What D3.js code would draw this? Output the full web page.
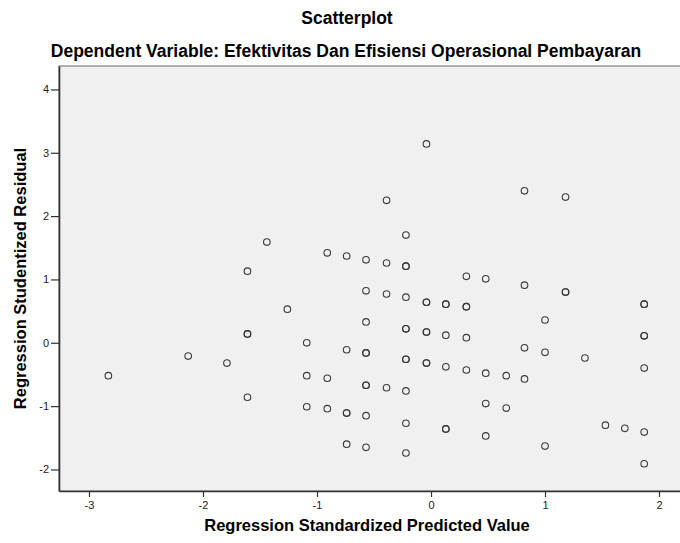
<!DOCTYPE html>
<html>
<head>
<meta charset="utf-8">
<script src="https://cdn.jsdelivr.net/npm/d3@7"></script>
<style>
  body { margin: 0; background: #fff; }
  text { font-family: 'Liberation Sans', Arial, sans-serif; fill: #000; }
  .tick text { font-size: 11px; fill: #222; }
  .axis-label { font-weight: bold; font-size: 16.5px; }
  .title { font-weight: bold; font-size: 17.5px; }
</style>
</head>
<body>
<svg width="680" height="543"></svg>
<script>
// regression standardized predicted value (x) and studentized residual (y)
// repeated pairs are cases that sit on top of each other
const predicted = [
  -2.83, -2.13, -1.79,
  -1.61, -1.61, -1.61, -1.61,
  -1.44, -1.26,
  -1.09, -1.09, -1.09,
  -0.91, -0.91, -0.91,
  -0.74, -0.74, -0.74, -0.74, -0.74,
  -0.57, -0.57, -0.57, -0.57, -0.57, -0.57, -0.57, -0.57, -0.57,
  -0.39, -0.39, -0.39, -0.39,
  -0.22, -0.22, -0.22, -0.22, -0.22, -0.22, -0.22, -0.22, -0.22, -0.22, -0.22,
  -0.04, -0.04, -0.04, -0.04, -0.04, -0.04, -0.04,
  0.13, 0.13, 0.13, 0.13, 0.13, 0.13,
  0.31, 0.31, 0.31, 0.31, 0.31,
  0.48, 0.48, 0.48, 0.48,
  0.66, 0.66,
  0.82, 0.82, 0.82, 0.82,
  1.00, 1.00, 1.00,
  1.18, 1.18, 1.18,
  1.35, 1.53, 1.70,
  1.87, 1.87, 1.87, 1.87, 1.87, 1.87, 1.87
];
const residual = [
  -0.52, -0.21, -0.32,
  1.13, 0.14, 0.14, -0.86,
  1.59, 0.53,
  0.00, -0.52, -1.01,
  1.42, -0.56, -1.04,
  1.37, -0.11, -1.11, -1.11, -1.60,
  1.31, 0.82, 0.33, -0.16, -0.16, -0.67, -0.67, -1.15, -1.65,
  2.25, 1.26, 0.77, -0.71,
  1.70, 1.21, 1.21, 0.72, 0.22, 0.22, -0.26, -0.26, -0.76, -1.27, -1.74,
  3.14, 0.64, 0.64, 0.17, 0.17, -0.32, -0.32,
  0.61, 0.61, 0.12, -0.38, -1.36, -1.36,
  1.05, 0.57, 0.57, 0.08, -0.43,
  1.01, -0.48, -0.96, -1.47,
  -0.52, -1.03,
  2.40, 0.91, -0.08, -0.57,
  0.36, -0.15, -1.63,
  2.30, 0.80, 0.80,
  -0.24, -1.30, -1.35,
  0.61, 0.61, 0.11, 0.11, -0.40, -1.41, -1.91
];
const xTicks = [-3, -2, -1, 0, 1, 2];
const yTicks = [-2, -1, 0, 1, 2, 3, 4];
const xExtent = [-3.263, 2.184];
const yExtent = [-2.34, 4.37];

const title = 'Scatterplot';
const subtitle = 'Dependent Variable: Efektivitas Dan Efisiensi Operasional Pembayaran';
const xLabel = 'Regression Standardized Predicted Value';
const yLabel = 'Regression Studentized Residual';

const margin = { left: 59, right: 0, top: 66, bottom: 52 };

const svg = d3.select('svg');
const width = +svg.attr('width');
const height = +svg.attr('height');
const innerWidth = width - margin.left - margin.right;
const innerHeight = height - margin.top - margin.bottom;

const data = predicted.map((x, i) => ({ x, y: residual[i] }));

const xScale = d3.scaleLinear().domain(xExtent).range([0, innerWidth]);
const yScale = d3.scaleLinear().domain(yExtent).range([innerHeight, 0]);

// SPSS prints a plain hyphen, not the unicode minus
const tickFmt = d => String(d);

svg.append('text')
    .attr('class', 'title')
    .attr('x', 347)
    .attr('y', 24)
    .attr('text-anchor', 'middle')
    .text(title);

svg.append('text')
    .attr('class', 'title')
    .attr('x', 346)
    .attr('y', 57)
    .attr('text-anchor', 'middle')
    .text(subtitle);

const g = svg.append('g')
    .attr('transform', `translate(${margin.left},${margin.top})`);

// plot background, right edge runs off the picture
g.append('rect')
    .attr('width', innerWidth + 5)
    .attr('height', innerHeight)
    .attr('fill', '#f0f0f0')
    .attr('stroke', '#666')
    .attr('stroke-width', 1);

const xAxisG = g.append('g')
    .attr('transform', `translate(0,${innerHeight})`)
    .call(d3.axisBottom(xScale).tickValues(xTicks).tickFormat(tickFmt)
        .tickSize(6).tickPadding(4).tickSizeOuter(0));

const yAxisG = g.append('g')
    .call(d3.axisLeft(yScale).tickValues(yTicks).tickFormat(tickFmt)
        .tickSize(8).tickPadding(2).tickSizeOuter(0));

[xAxisG, yAxisG].forEach(a => {
    a.select('.domain').attr('stroke', '#333').attr('stroke-width', 1.6);
    a.selectAll('.tick line').attr('stroke', '#333').attr('stroke-width', 1.2);
    a.selectAll('.tick text').attr('font-family', null).attr('font-size', null);
});

g.selectAll('circle').data(data)
    .enter().append('circle')
    .attr('cx', d => xScale(d.x))
    .attr('cy', d => yScale(d.y))
    .attr('r', 3.3)
    .attr('fill', 'none')
    .attr('stroke', '#3a3a3a')
    .attr('stroke-width', 1.1);

svg.append('text')
    .attr('class', 'axis-label')
    .attr('x', margin.left + 308)
    .attr('y', 531)
    .attr('text-anchor', 'middle')
    .text(xLabel);

svg.append('text')
    .attr('class', 'axis-label')
    .attr('transform', `translate(26,${margin.top + innerHeight / 2}) rotate(-90)`)
    .attr('text-anchor', 'middle')
    .text(yLabel);
</script>
</body>
</html>
